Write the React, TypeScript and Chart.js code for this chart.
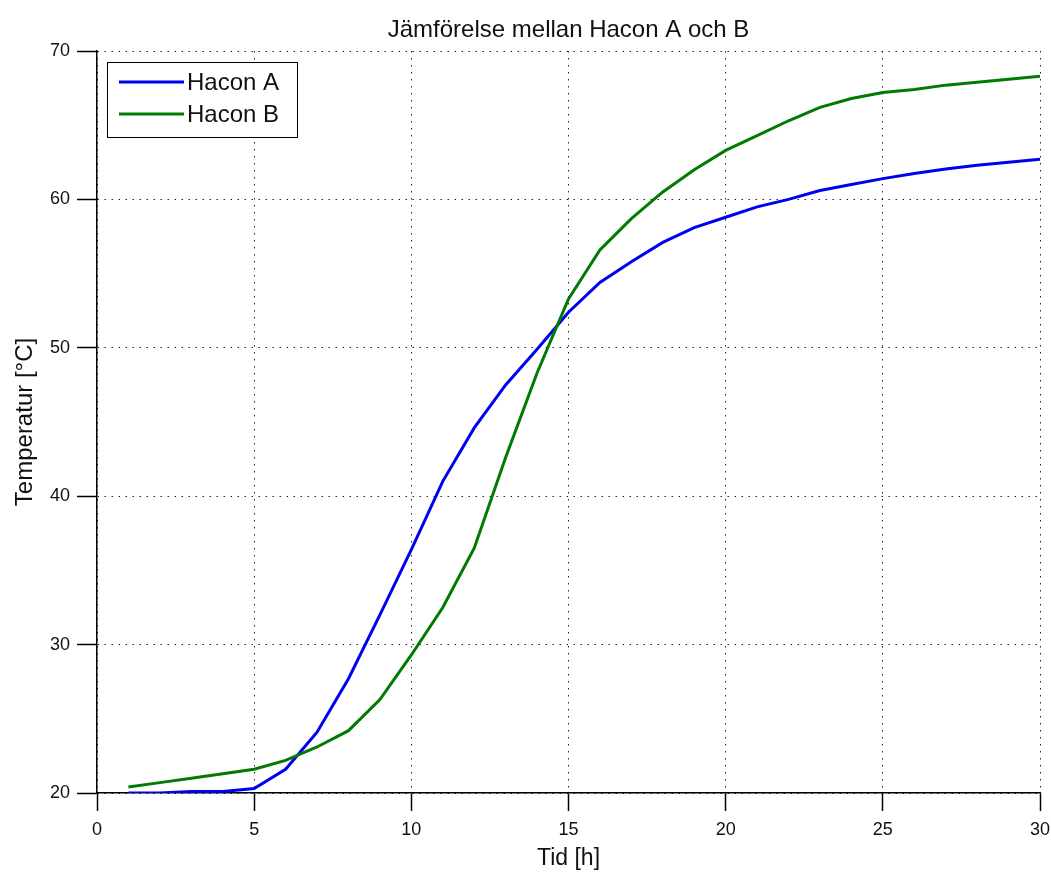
import React, { useEffect, useRef } from "react";
import { Chart, registerables } from "chart.js";

Chart.register(...registerables);

const chartTitle = "Jämförelse mellan Hacon A och B";
const xAxisTitle = "Tid [h]";
const yAxisTitle = "Temperatur [°C]";
const seriesLabels = ["Hacon A", "Hacon B"];

const hours = [
  1, 2, 3, 4, 5, 6, 7, 8, 9, 10, 11, 12, 13, 14, 15, 16, 17, 18, 19, 20, 21,
  22, 23, 24, 25, 26, 27, 28, 29, 30,
];

const haconA = [
  20.0, 20.0, 20.1, 20.1, 20.3, 21.6, 24.1, 27.7, 32.0, 36.4, 41.0, 44.6,
  47.5, 49.9, 52.4, 54.4, 55.8, 57.1, 58.1, 58.8, 59.5, 60.0, 60.6, 61.0,
  61.4, 61.75, 62.05, 62.3, 62.5, 62.7,
];

const haconB = [
  20.4, 20.7, 21.0, 21.3, 21.6, 22.2, 23.1, 24.2, 26.3, 29.3, 32.5, 36.5,
  42.6, 48.3, 53.3, 56.6, 58.7, 60.5, 62.0, 63.3, 64.3, 65.3, 66.2, 66.8,
  67.2, 67.4, 67.7, 67.9, 68.1, 68.3,
];

const xTicksRange = [0, 30, 5];
const yTicksRange = [20, 70, 10];

const FONT = "'Liberation Sans', Arial, sans-serif";

const titlePlugin = {
  id: "centeredTitle",
  afterDraw(chart: any) {
    const { ctx, chartArea } = chart;
    ctx.save();
    ctx.font = `24px ${FONT}`;
    ctx.fillStyle = "#111";
    ctx.textAlign = "center";
    ctx.textBaseline = "alphabetic";
    ctx.fillText(chartTitle, (chartArea.left + chartArea.right) / 2, 37);
    ctx.restore();
  },
};

const boxLegendPlugin = {
  id: "boxLegend",
  afterDraw(chart: any) {
    const { ctx, chartArea } = chart;
    const x0 = chartArea.left + 10;
    const y0 = chartArea.top + 11;
    const w = 190;
    const h = 75;
    ctx.save();
    ctx.fillStyle = "#fff";
    ctx.fillRect(x0, y0, w, h);
    ctx.strokeStyle = "#000";
    ctx.lineWidth = 1;
    ctx.strokeRect(x0 + 0.5, y0 + 0.5, w, h);
    chart.data.datasets.forEach((ds: any, i: number) => {
      const ly = y0 + 20 + i * 32;
      ctx.strokeStyle = ds.borderColor;
      ctx.lineWidth = 3;
      ctx.beginPath();
      ctx.moveTo(x0 + 12, ly);
      ctx.lineTo(x0 + 77, ly);
      ctx.stroke();
      ctx.fillStyle = "#111";
      ctx.font = `24px ${FONT}`;
      ctx.textAlign = "left";
      ctx.textBaseline = "middle";
      ctx.fillText(ds.label, x0 + 80, ly + 1);
    });
    ctx.restore();
  },
};

export default function App() {
  const ref = useRef<HTMLCanvasElement | null>(null);

  useEffect(() => {
    if (!ref.current) return;
    const chart = new Chart(ref.current, {
      type: "line",
      data: {
        datasets: [
          {
            label: seriesLabels[0],
            data: hours.map((h, i) => ({ x: h, y: haconA[i] })),
            borderColor: "#0000f0",
            borderWidth: 3,
            pointRadius: 0,
            tension: 0,
            fill: false,
            order: 1,
          },
          {
            label: seriesLabels[1],
            data: hours.map((h, i) => ({ x: h, y: haconB[i] })),
            borderColor: "#007a00",
            borderWidth: 3,
            pointRadius: 0,
            tension: 0,
            fill: false,
            order: 0,
          },
        ],
      },
      options: {
        responsive: false,
        animation: false,
        layout: { padding: { top: 51, right: 11, left: 0, bottom: 0 } },
        plugins: {
          legend: { display: false },
          title: { display: false },
          tooltip: { enabled: false },
        },
        scales: {
          x: {
            type: "linear",
            min: xTicksRange[0],
            max: xTicksRange[1],
            afterFit: (s: any) => {
              s.height = 79;
              s.paddingLeft = 0;
              s.paddingRight = 0;
            },
            ticks: {
              stepSize: xTicksRange[2],
              color: "#111",
              font: { family: FONT, size: 18 },
              padding: 8,
              maxRotation: 0,
            },
            grid: {
              color: "rgba(0,0,0,0.85)",
              lineWidth: 1,
              drawTicks: true,
              tickLength: 18,
              tickColor: "#000",
              tickWidth: 1.5,
            },
            border: { display: true, color: "#000", width: 1.5, dash: [1.5, 5.5] },
            title: {
              display: true,
              text: xAxisTitle,
              color: "#111",
              font: { family: FONT, size: 23 },
              padding: { top: 0, bottom: 0 },
            },
          },
          y: {
            type: "linear",
            min: yTicksRange[0],
            max: yTicksRange[1],
            afterFit: (s: any) => {
              s.width = 97;
              s.paddingTop = 0;
              s.paddingBottom = 0;
            },
            ticks: {
              stepSize: yTicksRange[2],
              color: "#111",
              font: { family: FONT, size: 18 },
              padding: 7,
            },
            grid: {
              color: "rgba(0,0,0,0.85)",
              lineWidth: 1,
              drawTicks: true,
              tickLength: 20,
              tickColor: "#000",
              tickWidth: 1.5,
            },
            border: { display: true, color: "#000", width: 1.5, dash: [1.5, 5.5] },
            title: {
              display: true,
              text: yAxisTitle,
              color: "#111",
              font: { family: FONT, size: 24 },
              padding: { top: 11, bottom: 0 },
            },
          },
        },
      },
      plugins: [titlePlugin, boxLegendPlugin],
    });
    return () => chart.destroy();
  }, []);

  return (
    <div style={{ position: "absolute", left: 0, top: 0, width: 1051, height: 872, background: "#fff" }}>
      <canvas ref={ref} width={1051} height={872} />
    </div>
  );
}
